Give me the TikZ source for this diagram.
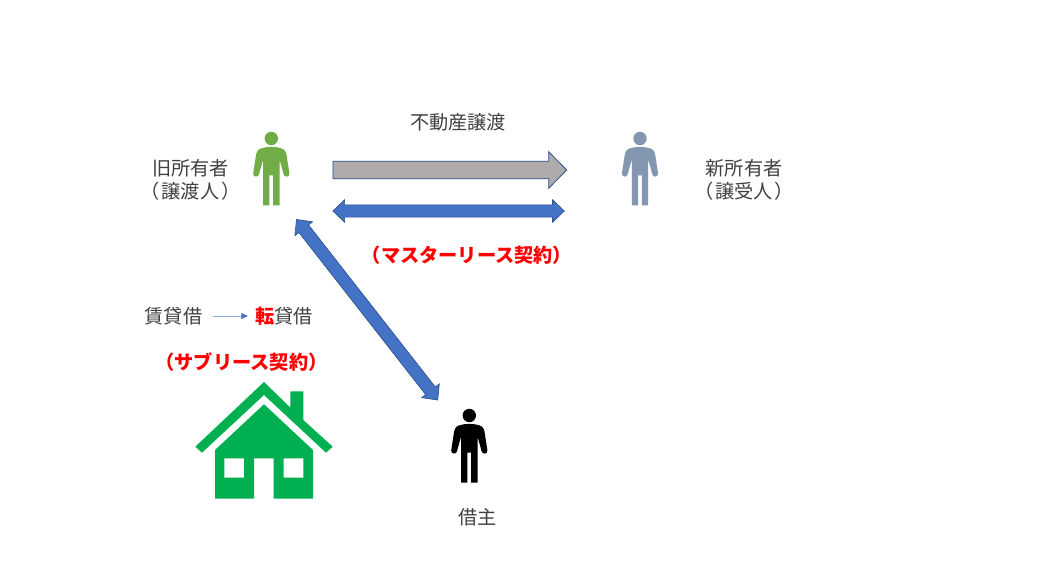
\documentclass[tikz,border=0pt]{standalone}
\usepackage{fontspec}
\setmainfont{Noto Sans CJK JP}
\newfontfamily\palted[RawFeature=+palt]{Noto Sans CJK JP}
\usetikzlibrary{arrows.meta,calc}
\definecolor{txt}{HTML}{404040}
\definecolor{blueA}{HTML}{4472C4}
\definecolor{edgeA}{HTML}{2F528F}
\definecolor{greyA}{HTML}{AFABAB}
\definecolor{personG}{HTML}{70AD47}
\definecolor{personS}{HTML}{8497B0}
\definecolor{houseG}{HTML}{00B050}
\definecolor{thinA}{HTML}{8FAADC}
\tikzset{
  x=0.75pt,y=-0.75pt,
  label text/.style={text=txt,font=\fontsize{14.4}{17}\selectfont,inner sep=0pt,align=center},
  red text/.style={text=red,font=\fontsize{14.4}{17}\selectfont\bfseries,inner sep=0pt,align=center},
  block blue/.style={fill=blueA,draw=edgeA,line width=0.5pt,line join=miter},
  block grey/.style={fill=greyA,draw=edgeA,line width=0.6pt,line join=miter},
  thin link/.style={draw=thinA,line width=0.5pt,-{Triangle[length=5pt,width=4.5pt,color=blueA]},shorten <=7.5pt,shorten >=5.25pt},
  pics/person/.style={code={
    \fill[#1] (0,0) circle [radius=6.7];
    \fill[#1] (0,8.4) .. controls (-5,8.4) and (-10,9.4) .. (-12.4,11)
      .. controls (-14,12.2) and (-14.8,14) .. (-15.2,16) -- (-18.1,35)
      .. controls (-18.4,38.6) and (-13.2,39.2) .. (-12.4,36) -- (-8.2,21)
      -- (-8.2,67) -- (-1.9,67) -- (-1.9,37) -- (1.9,37) -- (1.9,67) -- (8.2,67) -- (8.2,21)
      -- (12.4,36) .. controls (13.2,39.2) and (18.4,38.6) .. (18.1,35) -- (15.2,16)
      .. controls (14.8,14) and (14,12.2) .. (12.4,11) .. controls (10,9.4) and (5,8.4) .. (0,8.4) -- cycle;
  }}
}
\newcommand{\dblblock}[2]{%
  \draw[block blue] let \p1=($(#2)-(#1)$), \n1={atan2(\y1,\x1)}, \n2={veclen(\x1,\y1)} in
    [shift={(#1)},rotate=\n1]
    (0pt,0pt) -- (8.8pt,8.4pt) -- (8.8pt,4.6pt) -- (\n2-8.8pt,4.6pt) -- (\n2-8.8pt,8.4pt) -- (\n2,0pt)
    -- (\n2-8.8pt,-8.4pt) -- (\n2-8.8pt,-4.6pt) -- (8.8pt,-4.6pt) -- (8.8pt,-8.4pt) -- cycle;}
\begin{document}
\begin{tikzpicture}
\useasboundingbox (0,0) rectangle (1043,588);
\fill[white] (0,0) rectangle (1043,588);

% people
\pic at (271.3,138.5) {person=personG};
\pic at (640,138.5) {person=personS};
\pic at (469.3,415.5) {person=black};

% labels
\node[label text] (old) at (190.5,180) {旧所有者\\{\palted （\kern2pt 譲渡人\kern2pt ）}};
\node[label text] (new) at (744,180) {新所有者\\{\palted （\kern2pt 譲受人\kern2pt ）}};
\node[label text] (transfer) at (458,122) {不動産譲渡};
\node[red text] (master) at (467,255.5) {（マスターリース契約）};
\node[label text] (chin) at (173.5,316) {賃貸借};
\node[label text] (ten) at (284,316) {\textcolor{red}{\bfseries 転}貸借};
\node[red text] (sub) at (241.5,362) {（サブリース契約）};
\node[label text] (tenant) at (477.5,517) {借主};

% connectors
\coordinate (gs) at (332.9,170);
\coordinate (ge) at (566.7,170);
\coordinate (ms) at (332.9,211);
\coordinate (me) at (564.3,211);
\coordinate (ds) at (296.5,219.5);
\coordinate (de) at (437.7,400);
\draw[block grey] (gs) |- ($(ge)+(-18,-8.8)$) -- ($(ge)+(-18,-18.3)$) -- (ge) -- ($(ge)+(-18,18.3)$) -- ($(ge)+(-18,8.8)$) -| (gs) -- cycle;
\dblblock{ms}{me}
\dblblock{ds}{de}
\draw[thin link] (chin.east) -- (ten.west);

% house
\fill[houseG] (264,382) -- (290.3,407.5) -- (290.3,391.3) -- (303.3,391.3) -- (303.3,420) -- (332.7,446.7)
  -- (326,452.7) -- (264,395) -- (202,452.7) -- (195.3,446.7) -- cycle;
\fill[houseG,even odd rule] (264,404.3) -- (313,450) -- (313,498.7) -- (273.7,498.7) -- (273.7,458.3) -- (254,458.3)
  -- (254,498.7) -- (215,498.7) -- (215,450) -- cycle
  (224.3,458.3) rectangle (244,477.7)
  (283.7,458.3) rectangle (303.3,477.7);
\end{tikzpicture}
\end{document}
